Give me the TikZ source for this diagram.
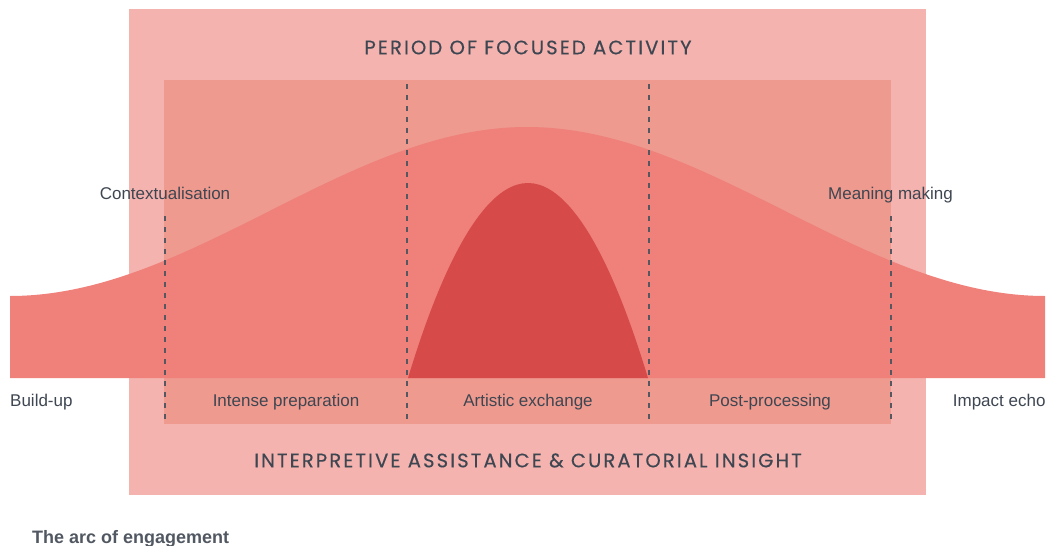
\documentclass[tikz,border=0pt]{standalone}
\usepackage{fontspec}
\setmainfont{Liberation Sans}
\newfontfamily\headfont[LetterSpace=11, FakeBold=0.4]{Poppins}
\usetikzlibrary{positioning}

\tikzset{
	phaseLabel/.style={text=labelColour, inner sep=0pt, anchor=base, font=\fontsize{17}{20}\selectfont},
	headLabel/.style={text=labelColour, inner sep=0pt, anchor=base, font=\headfont\fontsize{19.5}{22}\selectfont},
	divider/.style={draw=dividerColour, line width=2pt, dash pattern=on 5pt off 6pt}
}

\begin{document}
\begin{tikzpicture}[x=1pt, y=-1pt]
					\definecolor{outerBoxColour}{RGB}{244, 179, 175}
					\definecolor{innerBoxColour}{RGB}{238, 154, 143}
					\definecolor{bellColour}{RGB}{239, 128, 122}
					\definecolor{peakColour}{RGB}{214, 75, 74}
					\definecolor{dividerColour}{RGB}{85, 88, 96}
					\definecolor{labelColour}{RGB}{62, 70, 81}

					\useasboundingbox (0, 0) rectangle (1050, 546);

					\fill[outerBoxColour] (129, 9) rectangle (926, 495);
					\fill[innerBoxColour] (164, 80) rectangle (891, 424);

					\fill[bellColour] (10, 378) -- (10, 296) .. controls (191, 296) and (346, 127) .. (527, 127)
						.. controls (708, 127) and (864, 296) .. (1045, 296) -- (1045, 378) -- cycle;
					\fill[peakColour] (408, 378) parabola bend (528, 183) (648, 378) -- cycle;

					\draw[divider] (164.5, 216) -- (164.5, 424);
					\draw[divider] (407, 84) -- (407, 424);
					\draw[divider] (649, 84) -- (649, 424);
					\draw[divider] (890.5, 216) -- (890.5, 424);

					\node[headLabel] (focus) at (528, 54.3) {PERIOD OF FOCUSED ACTIVITY};
					\node[headLabel] (insight) at (528, 467.3) {INTERPRETIVE ASSISTANCE \& CURATORIAL INSIGHT};

					\node[phaseLabel] (context) at (165, 199.3) {Contextualisation};
					\node[phaseLabel] (meaning) at (890.5, 199.3) {Meaning making};

					\node[phaseLabel, anchor=base west] (buildup) at (10, 406.7) {Build-up};
					\node[phaseLabel] (prep) at (286, 406.7) {Intense preparation};
					\node[phaseLabel] (exchange) at (528, 406.7) {Artistic exchange};
					\node[phaseLabel] (post) at (770, 406.7) {Post-processing};
					\node[phaseLabel, anchor=base east] (echo) at (1045.7, 406.7) {Impact echo};

					\node[phaseLabel, anchor=base west, font=\bfseries\fontsize{18}{22}\selectfont, text=labelColour!90!white] (caption) at (32, 543.5) {The arc of engagement};
				\end{tikzpicture}
\end{document}
